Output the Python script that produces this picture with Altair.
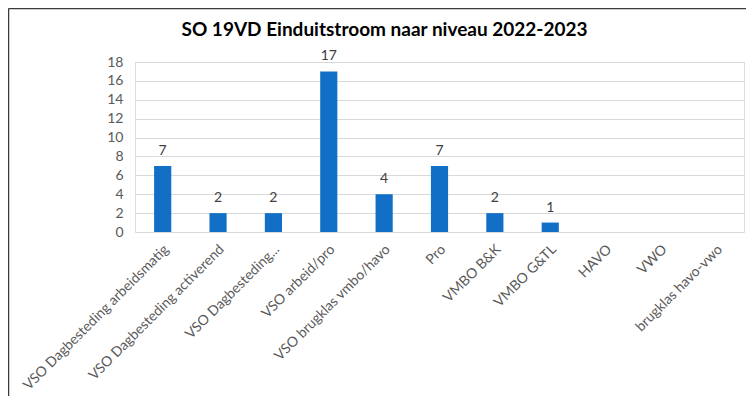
import altair as alt
import pandas as pd

categories = [
    "VSO Dagbesteding arbeidsmatig",
    "VSO Dagbesteding activerend",
    "VSO Dagbesteding...",
    "VSO arbeid/pro",
    "VSO brugklas vmbo/havo",
    "Pro",
    "VMBO B&K",
    "VMBO G&TL",
    "HAVO",
    "VWO",
    "brugklas havo-vwo",
]
values = [7, 2, 2, 17, 4, 7, 2, 1, 0, 0, 0]
y_ticks = [0, 2, 4, 6, 8, 10, 12, 14, 16, 18]
title_text = "SO 19VD Einduitstroom naar niveau 2022-2023"

df = pd.DataFrame({"categorie": categories, "aantal": values})

FONT = "Lato"
BLUE = "#1170C6"

x_enc = alt.X(
    "categorie:N",
    sort=None,
    title=None,
    scale=alt.Scale(paddingInner=0.69, paddingOuter=0.345),
    axis=alt.Axis(
        labelAngle=-45,
        labelAlign="right",
        labelBaseline="top",
        labelPadding=10,
        labelOffset=-1,
        labelLimit=300,
        labelColor="#595959",
        labelFontSize=14,
        labelFont=FONT,
        labelOverlap=False,
        grid=False,
        ticks=False,
        domain=False,
    ),
)
y_enc = alt.Y(
    "aantal:Q",
    title=None,
    scale=alt.Scale(domain=[0, 18], nice=False),
    axis=alt.Axis(
        values=y_ticks,
        tickCount=10,
        labelColor="#595959",
        labelFontSize=14,
        labelFont=FONT,
        labelPadding=12,
        labelOverlap=False,
        ticks=False,
        domain=False,
        grid=True,
        gridColor="#D9D9D9",
        gridWidth=1,
    ),
)

base = alt.Chart(df)
bars = base.mark_bar(color=BLUE).encode(x=x_enc, y=y_enc)
labels = (
    base.transform_filter(alt.datum.aantal > 0)
    .mark_text(
        baseline="alphabetic",
        dy=-11,
        fontSize=14,
        font=FONT,
        color="#404040",
    )
    .encode(x=x_enc, y=y_enc, text="aantal:Q")
)

frame_df = pd.DataFrame({"k": [0]})
left_border = alt.Chart(frame_df).mark_rule(color="#3A3A3A", strokeWidth=1.5).encode(
    x=alt.value(-126.5), y=alt.value(-53.5), y2=alt.value(400)
)
top_border = alt.Chart(frame_df).mark_rule(color="#3A3A3A", strokeWidth=1.5).encode(
    x=alt.value(-126.5), x2=alt.value(620), y=alt.value(-53.5)
)

chart = (
    alt.layer(bars, labels, left_border, top_border)
    .properties(
        width=609,
        height=170,
        autosize=alt.AutoSizeParams(type="none"),
        padding={"left": 127, "top": 54, "right": 2, "bottom": 164},
        title=alt.TitleParams(
            text=title_text,
            font=FONT,
            fontSize=19,
            fontWeight="bold",
            color="#000000",
            anchor="middle",
            frame="group",
            dx=-55,
            offset=-32,
        ),
    )
    .configure_view(stroke=None)
    .configure(background="white")
)

chart.save("out.html", embed_options={"renderer": "svg", "actions": False})
